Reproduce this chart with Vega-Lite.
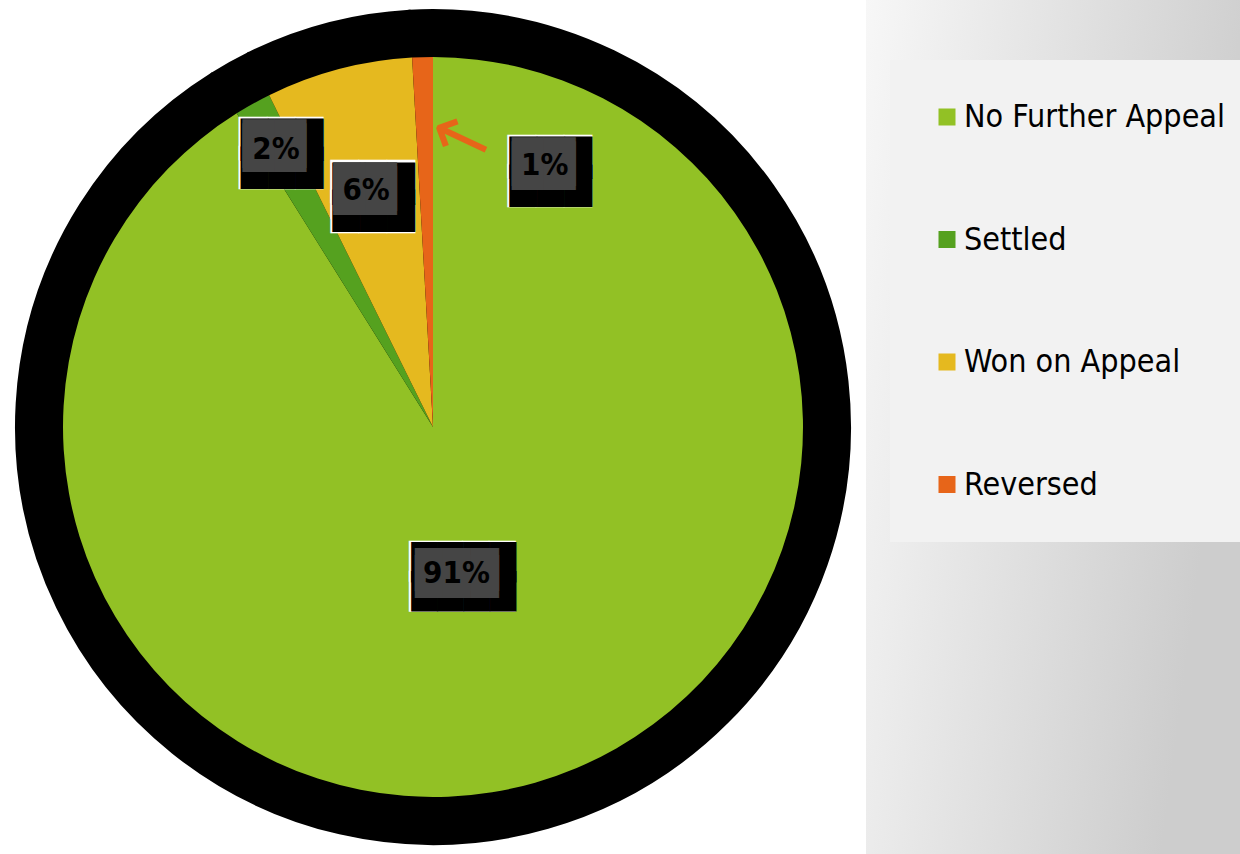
{
  "$schema": "https://vega.github.io/schema/vega-lite/v6.json",
  "padding": 0,
  "background": "white",
  "spacing": 0,
  "config": {
    "view": {"stroke": null},
    "legend": {"orient": "none", "legendX": 890, "legendY": 60}
  },
  "data": {"values": [
    {"category": "No Further Appeal", "k": 1, "v": 91.1, "pct": "91%"},
    {"category": "Settled", "k": 2, "v": 1.6, "pct": "2%"},
    {"category": "Won on Appeal", "k": 3, "v": 6.4, "pct": "6%"},
    {"category": "Reversed", "k": 4, "v": 0.9, "pct": "1%"}
  ]},
  "hconcat": [
    {
      "width": 866,
      "height": 854,
      "encoding": {
        "theta": {"field": "v", "type": "quantitative", "stack": true},
        "order": {"field": "k", "type": "quantitative"},
        "detail": {"field": "category", "type": "nominal"}
      },
      "layer": [
        {"mark": {"type": "arc", "outerRadius": 417, "color": "black", "stroke": "black", "strokeWidth": 2}},
        {
          "mark": {"type": "arc", "outerRadius": 370},
          "encoding": {
            "color": {
              "field": "category", "type": "nominal",
              "scale": {"domain": ["No Further Appeal", "Settled", "Won on Appeal", "Reversed"], "range": ["#92c125", "#55a11f", "#e5b91f", "#e76519"]},
              "legend": {
                "title": null, "fillColor": "#f2f2f2", "padding": 41,
                "symbolType": "square", "symbolSize": 289, "symbolStrokeWidth": 0,
                "labelFont": "DejaVu Sans Condensed", "labelFontSize": 32, "labelColor": "#000000",
                "labelOffset": 1, "rowPadding": 90.5, "labelLimit": 400
              }
            }
          }
        },
        {
          "encoding": {"opacity": {"condition": {"test": "datum.category === 'Reversed'", "value": 1}, "value": 0}},
          "layer": [
            {"mark": {"type": "text", "radius": 288, "dx": 33, "dy": -15, "angle": 25, "text": "←", "font": "DejaVu Sans", "fontSize": 74, "color": "#e76519", "align": "center", "baseline": "middle"}},
            {"mark": {"type": "text", "radius": 255, "dx": 124, "dy": -14.2, "text": ["███", "███"], "font": "DejaVu Sans", "fontSize": 36.6, "lineHeight": 29.4, "color": "white", "align": "center", "baseline": "middle"}},
            {"mark": {"type": "text", "radius": 255, "dx": 125, "dy": -12.7, "text": ["███", "███"], "font": "DejaVu Sans", "fontSize": 35.7, "lineHeight": 27.5, "color": "black", "align": "center", "baseline": "middle"}},
            {"mark": {"type": "text", "radius": 255, "dx": 118, "dy": -8, "text": ["██", "██"], "font": "DejaVu Sans", "fontSize": 41.2, "lineHeight": 4, "color": "#454545", "align": "center", "baseline": "middle"}},
            {"mark": {"type": "text", "radius": 255, "dx": 119, "dy": -6, "font": "DejaVu Sans Condensed", "fontWeight": "bold", "fontSize": 31, "color": "#000000", "align": "center", "baseline": "middle"}, "encoding": {"text": {"field": "pct"}}}
          ]
        },
        {
          "encoding": {"opacity": {"condition": {"test": "datum.category === 'Settled'", "value": 1}, "value": 0}},
          "layer": [
            {"mark": {"type": "text", "radius": 312, "dy": -14.7, "text": ["███", "███"], "font": "DejaVu Sans", "fontSize": 36.6, "lineHeight": 29.4, "color": "white", "align": "center", "baseline": "middle"}},
            {"mark": {"type": "text", "radius": 312, "dx": 1, "dy": -13.2, "text": ["███", "███"], "font": "DejaVu Sans", "fontSize": 35.7, "lineHeight": 27.5, "color": "black", "align": "center", "baseline": "middle"}},
            {"mark": {"type": "text", "radius": 312, "dx": -6.5, "dy": -9, "text": ["██", "██"], "font": "DejaVu Sans", "fontSize": 41.2, "lineHeight": 4, "color": "#454545", "align": "center", "baseline": "middle"}},
            {"mark": {"type": "text", "radius": 312, "dx": -5, "dy": -5, "font": "DejaVu Sans Condensed", "fontWeight": "bold", "fontSize": 31, "color": "#000000", "align": "center", "baseline": "middle"}, "encoding": {"text": {"field": "pct"}}}
          ]
        },
        {
          "encoding": {"opacity": {"condition": {"test": "datum.category === 'Won on Appeal'", "value": 1}, "value": 0}},
          "layer": [
            {"mark": {"type": "text", "radius": 237, "dy": -14.7, "text": ["███", "███"], "font": "DejaVu Sans", "fontSize": 36.6, "lineHeight": 29.4, "color": "white", "align": "center", "baseline": "middle"}},
            {"mark": {"type": "text", "radius": 237, "dx": 1, "dy": -13.2, "text": ["███", "███"], "font": "DejaVu Sans", "fontSize": 35.7, "lineHeight": 27.5, "color": "black", "align": "center", "baseline": "middle"}},
            {"mark": {"type": "text", "radius": 237, "dx": -7.5, "dy": -8.5, "text": ["██", "██"], "font": "DejaVu Sans", "fontSize": 41.2, "lineHeight": 4, "color": "#454545", "align": "center", "baseline": "middle"}},
            {"mark": {"type": "text", "radius": 237, "dx": -6.5, "dy": -7, "font": "DejaVu Sans Condensed", "fontWeight": "bold", "fontSize": 31, "color": "#000000", "align": "center", "baseline": "middle"}, "encoding": {"text": {"field": "pct"}}}
          ]
        },
        {
          "encoding": {"opacity": {"condition": {"test": "datum.category === 'No Further Appeal'", "value": 1}, "value": 0}},
          "layer": [
            {"mark": {"type": "text", "radius": 154, "dx": -13, "dy": -12.4, "text": ["████", "████"], "font": "DejaVu Sans", "fontSize": 34.6, "lineHeight": 30.8, "color": "white", "align": "center", "baseline": "middle"}},
            {"mark": {"type": "text", "radius": 154, "dx": -12, "dy": -11.2, "text": ["████", "████"], "font": "DejaVu Sans", "fontSize": 34, "lineHeight": 29.5, "color": "black", "align": "center", "baseline": "middle"}},
            {"mark": {"type": "text", "radius": 154, "dx": -18.5, "dy": -4, "text": ["███", "███"], "font": "DejaVu Sans", "fontSize": 36.2, "lineHeight": 7, "color": "#454545", "align": "center", "baseline": "middle"}},
            {"mark": {"type": "text", "radius": 154, "dx": -19, "dy": -1, "font": "DejaVu Sans Condensed", "fontWeight": "bold", "fontSize": 31, "color": "#000000", "align": "center", "baseline": "middle"}, "encoding": {"text": {"field": "pct"}}}
          ]
        }
      ]
    },
    {
      "width": 374,
      "height": 854,
      "data": {"values": [{"panel": "right"}]},
      "mark": {"type": "rect", "color": {"gradient": "linear", "x1": 0, "y1": 0, "x2": 1, "y2": 0.3, "stops": [{"offset": 0, "color": "#f7f7f7"}, {"offset": 1, "color": "#cdcdcd"}]}},
      "encoding": {}
    }
  ]
}
